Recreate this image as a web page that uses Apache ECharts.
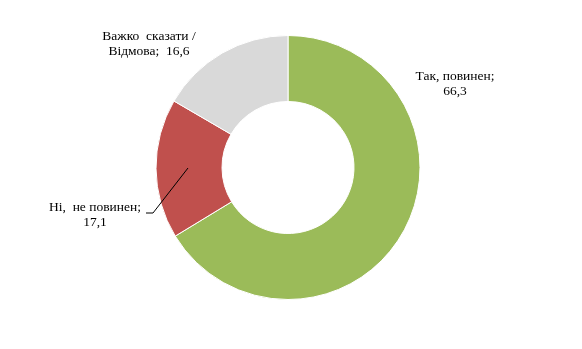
<!DOCTYPE html>
<html>
<head>
<meta charset="utf-8">
<script src="https://cdn.jsdelivr.net/npm/echarts@6/dist/echarts.min.js"></script>
<style>html,body{margin:0;padding:0;background:#fff}#c{width:582px;height:349px}</style>
</head>
<body>
<div id="c"></div>
<script>
const categories = ['Так, повинен', 'Ні, не повинен', 'Важко сказати / Відмова'];
const labelTexts = ['Так, повинен;\n66,3', 'Ні,  не повинен;\n17,1', 'Важко  сказати /\nВідмова;  16,6'];
const values = [66.3, 17.1, 16.6];
const colors = ['#9BBB59', '#C0504D', '#D9D9D9'];

const labelPos = [
  {x: 455, y: 84},
  {x: 95, y: 215},
  {x: 149, y: 44}
];

const base = {
  type: 'pie',
  center: [288, 167.5],
  radius: [66, 132],
  startAngle: 90,
  clockwise: true,
  silent: true,
  emphasis: {disabled: true}
};

const chart = echarts.init(document.getElementById('c'), null, {renderer: 'canvas'});
chart.setOption({
  animation: false,
  series: [
    Object.assign({}, base, {
      z: 2,
      itemStyle: {borderColor: '#fff', borderWidth: 1},
      label: {show: false},
      labelLine: {show: false},
      data: categories.map((c, i) => ({name: c, value: values[i], itemStyle: {color: colors[i]}}))
    }),
    Object.assign({}, base, {
      z: 5,
      itemStyle: {color: 'rgba(0,0,0,0)', borderWidth: 0},
      label: {
        show: true,
        position: 'outside',
        fontFamily: 'Liberation Serif',
        fontSize: 13.5,
        lineHeight: 15.5,
        color: '#000',
        align: 'center',
        formatter: p => labelTexts[p.dataIndex]
      },
      labelLine: {show: true, length: 5, length2: 5, lineStyle: {color: '#000', width: 1}},
      labelLayout: function (p) {
        const lp = labelPos[p.dataIndex];
        const r = {x: lp.x, y: lp.y, align: 'center', verticalAlign: 'middle'};
        if (p.dataIndex === 1) {
          r.labelLinePoints = [[188, 168], [153, 213], [146, 213]];
        }
        return r;
      },
      data: categories.map((c, i) => ({
        name: c,
        value: values[i],
        labelLine: {show: i === 1}
      }))
    })
  ]
});
</script>
</body>
</html>
